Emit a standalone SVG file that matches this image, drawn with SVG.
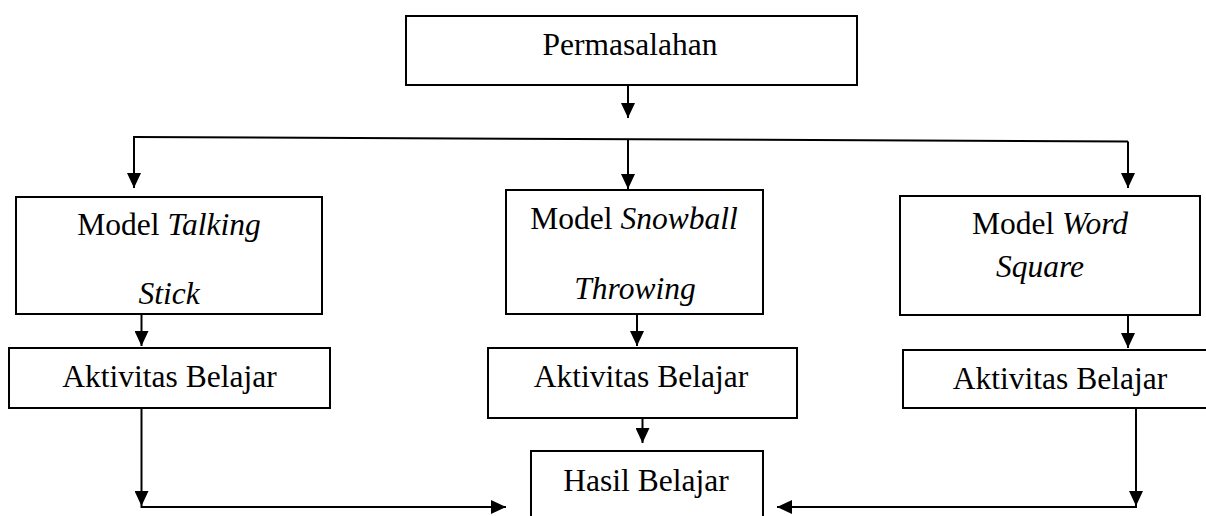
<svg xmlns="http://www.w3.org/2000/svg" width="1206" height="516" viewBox="0 0 1206 516">
<style>
.box{fill:#fff;stroke:#000;stroke-width:2}
.t{font-family:"Liberation Serif","Times New Roman",serif;font-size:31.5px;fill:#000;text-anchor:middle}
.i{font-style:italic}
.c{fill:none;stroke:#000;stroke-width:2}
</style>
<defs>
<marker id="ah" markerUnits="userSpaceOnUse" markerWidth="16" markerHeight="14" refX="15" refY="7" orient="auto">
<path d="M0,0 L15,7 L0,14 z" fill="#000"/>
</marker>
</defs>
<rect width="1206" height="516" fill="#fff"/>
<g id="connectors">
<line class="c" x1="628" y1="85" x2="628" y2="118" marker-end="url(#ah)"/>
<line class="c" x1="133" y1="137" x2="1128" y2="141.5"/>
<line class="c" x1="134" y1="137" x2="134" y2="188" marker-end="url(#ah)"/>
<line class="c" x1="628" y1="139.5" x2="628" y2="189" marker-end="url(#ah)"/>
<line class="c" x1="1128" y1="141.5" x2="1128" y2="188" marker-end="url(#ah)"/>
<line class="c" x1="141.5" y1="314" x2="141.5" y2="346" marker-end="url(#ah)"/>
<line class="c" x1="637" y1="314" x2="637" y2="346" marker-end="url(#ah)"/>
<line class="c" x1="1128" y1="315" x2="1128" y2="348" marker-end="url(#ah)"/>
<line class="c" x1="642.5" y1="418" x2="642.5" y2="443" marker-end="url(#ah)"/>
<line class="c" x1="141.5" y1="408" x2="141.5" y2="506" marker-end="url(#ah)"/>
<line class="c" x1="140.5" y1="507" x2="506" y2="507" marker-end="url(#ah)"/>
<line class="c" x1="1136" y1="408" x2="1136" y2="506" marker-end="url(#ah)"/>
<line class="c" x1="1137" y1="507" x2="777" y2="507" marker-end="url(#ah)"/>
</g>
<g id="permasalahan">
<rect class="box" x="406" y="16" width="451" height="69"/>
<text class="t" x="630" y="55">Permasalahan</text>
</g>
<g id="model-talking-stick">
<rect class="box" x="16" y="197" width="306" height="117"/>
<text class="t" x="169" y="235">Model <tspan class="i">Talking</tspan></text>
<text class="t i" x="169" y="304">Stick</text>
</g>
<g id="model-snowball-throwing">
<rect class="box" x="506" y="190" width="257" height="124"/>
<text class="t" x="634" y="229">Model <tspan class="i">Snowball</tspan></text>
<text class="t i" x="635" y="299">Throwing</text>
</g>
<g id="model-word-square">
<rect class="box" x="900" y="196" width="300" height="119"/>
<text class="t" x="1050" y="234">Model <tspan class="i">Word</tspan></text>
<text class="t i" x="1040" y="277">Square</text>
</g>
<g id="aktivitas-1">
<rect class="box" x="9" y="348" width="321" height="60"/>
<text class="t" x="169.5" y="387">Aktivitas Belajar</text>
</g>
<g id="aktivitas-2">
<rect class="box" x="488" y="348" width="309" height="70"/>
<text class="t" x="641" y="387">Aktivitas Belajar</text>
</g>
<g id="aktivitas-3">
<rect class="box" x="903" y="350" width="310" height="58"/>
<text class="t" x="1060" y="389">Aktivitas Belajar</text>
</g>
<g id="hasil-belajar">
<rect class="box" x="531" y="451" width="232" height="80"/>
<text class="t" x="646" y="490.5">Hasil Belajar</text>
</g>
</svg>
